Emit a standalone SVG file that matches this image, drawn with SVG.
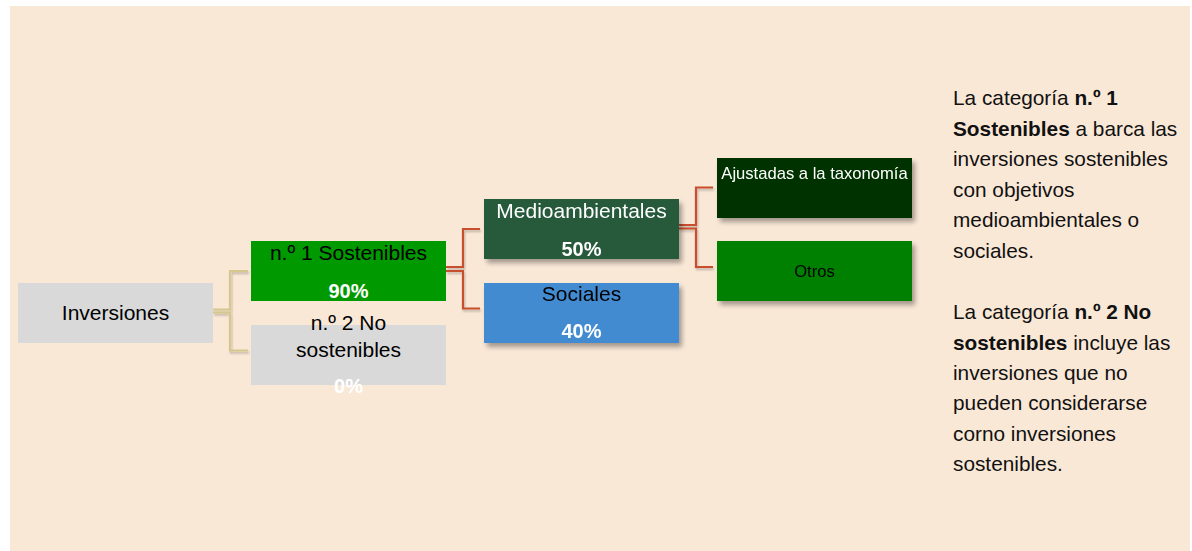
<svg xmlns="http://www.w3.org/2000/svg" width="1192" height="551" viewBox="0 0 1192 551">
<defs>
<filter id="sh" x="-10%" y="-20%" width="125%" height="160%">
<feGaussianBlur in="SourceAlpha" stdDeviation="2.5"/>
<feOffset dx="3" dy="4" result="b"/>
<feComponentTransfer><feFuncA type="linear" slope="0.35"/></feComponentTransfer>
<feMerge><feMergeNode/><feMergeNode in="SourceGraphic"/></feMerge>
</filter>
<filter id="lsh" x="-20%" y="-20%" width="140%" height="140%">
<feGaussianBlur in="SourceAlpha" stdDeviation="1"/>
<feOffset dx="1" dy="1.5" result="b"/>
<feComponentTransfer><feFuncA type="linear" slope="0.25"/></feComponentTransfer>
<feMerge><feMergeNode/><feMergeNode in="SourceGraphic"/></feMerge>
</filter>
</defs>
<style>
text{font-family:"Liberation Sans",Arial,sans-serif}
.t{font-size:21px;text-anchor:middle}
.s{font-size:16.6px;text-anchor:middle}
.p{font-size:20px;font-weight:bold;fill:#fff;text-anchor:middle}
.k{fill:none;stroke:#D6C88C;stroke-width:2.2}
.r{fill:none;stroke:#C8502E;stroke-width:2.2}
.d{font-size:20.8px;fill:#111}
</style>
<rect x="10" y="6" width="1180" height="545" fill="#FAE8D7"/>
<g id="connectors">
<g filter="url(#lsh)">
<path class="k" d="M213 309.5H230V271H248"/>
<path class="k" d="M213 312.5H230V350.5H248"/>
</g>
<g filter="url(#lsh)">
<path class="r" d="M446 267H463V229H480"/>
<path class="r" d="M446 271H463V308.5H480"/>
<path class="r" d="M679 225H696V187.5H713"/>
<path class="r" d="M679 228.5H696V267H713"/>
</g>
</g>
<g id="inversiones">
<rect x="18" y="283" width="195" height="60" fill="#D9D9D9"/>
<text class="t" x="115.5" y="320">Inversiones</text>
</g>
<g id="sostenibles">
<rect x="251" y="241" width="195" height="60" fill="#009A00"/>
<text class="t" x="348.5" y="260">n.º 1 Sostenibles</text>
<text class="p" x="348.5" y="298">90%</text>
</g>
<g id="no-sostenibles">
<rect x="251" y="325" width="195" height="60" fill="#D9D9D9"/>
<text class="t" x="348.5" y="330">n.º 2 No</text>
<text class="t" x="348.5" y="357">sostenibles</text>
<text class="p" x="348.5" y="393">0%</text>
</g>
<g id="medioambientales" filter="url(#sh)">
<rect x="484" y="199" width="195" height="60" fill="#265A3B"/>
<text class="t" x="581.5" y="218" fill="#fff">Medioambientales</text>
<text class="p" x="581.5" y="256">50%</text>
</g>
<g id="sociales" filter="url(#sh)">
<rect x="484" y="283" width="195" height="60" fill="#428BD0"/>
<text class="t" x="581.5" y="301">Sociales</text>
<text class="p" x="581.5" y="338">40%</text>
</g>
<g id="ajustadas" filter="url(#sh)">
<rect x="717" y="158" width="195" height="60" fill="#013300"/>
<text class="s" x="814.5" y="179" fill="#fff">Ajustadas a la taxonomía</text>
</g>
<g id="otros" filter="url(#sh)">
<rect x="717" y="241" width="195" height="60" fill="#008000"/>
<text class="s" x="814.5" y="277">Otros</text>
</g>
<g id="leyenda">
<text class="d" x="953" y="105">La categoría <tspan font-weight="bold">n.º 1</tspan></text>
<text class="d" x="953" y="136"><tspan font-weight="bold">Sostenibles</tspan> a barca las</text>
<text class="d" x="953" y="166">inversiones sostenibles</text>
<text class="d" x="953" y="197">con objetivos</text>
<text class="d" x="953" y="227">medioambientales o</text>
<text class="d" x="953" y="258">sociales.</text>
<text class="d" x="953" y="319">La categoría <tspan font-weight="bold">n.º 2 No</tspan></text>
<text class="d" x="953" y="350"><tspan font-weight="bold">sostenibles</tspan> incluye las</text>
<text class="d" x="953" y="380">inversiones que no</text>
<text class="d" x="953" y="410">pueden considerarse</text>
<text class="d" x="953" y="441">corno inversiones</text>
<text class="d" x="953" y="471">sostenibles.</text>
</g>
</svg>
